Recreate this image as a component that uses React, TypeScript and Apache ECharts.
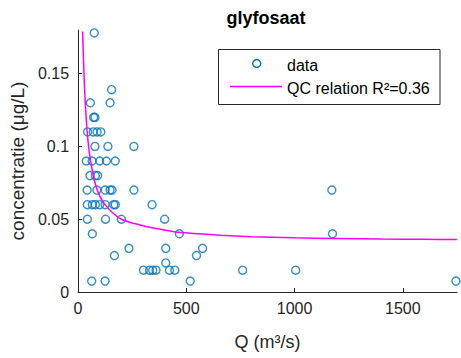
import React, { useEffect, useRef } from "react";
import * as echarts from "echarts";

// Measured discharge Q (m³/s) and glyphosate concentration (µg/L)
const qValues = [
  75, 155, 57, 148, 72, 78, 44, 70, 88, 105,
  78, 138, 258, 38, 65, 100, 131, 172, 55, 80,
  90, 42, 87, 125, 148, 157, 258, 43, 66, 80,
  100, 125, 165, 172, 342, 43, 127, 200, 400, 1172,
  66, 468, 1175, 235, 405, 575, 168, 547, 405, 302,
  330, 345, 360, 422, 447, 760, 1005, 63, 125, 518,
  1745,
];
const cValues = [
  0.178, 0.139, 0.13, 0.13, 0.12, 0.12, 0.11, 0.11, 0.11, 0.11,
  0.1, 0.1, 0.1, 0.09, 0.09, 0.09, 0.09, 0.09, 0.08, 0.08,
  0.08, 0.07, 0.07, 0.07, 0.07, 0.07, 0.07, 0.06, 0.06, 0.06,
  0.06, 0.06, 0.06, 0.06, 0.06, 0.05, 0.05, 0.05, 0.05, 0.07,
  0.04, 0.04, 0.04, 0.03, 0.03, 0.03, 0.025, 0.025, 0.02, 0.015,
  0.015, 0.015, 0.015, 0.015, 0.015, 0.015, 0.015, 0.0075, 0.0075, 0.0075,
  0.0075,
];

// Fitted QC relation, sampled along the curve
const fitQ = [21, 24, 28, 33, 41, 52, 65, 80, 100, 125, 156, 200, 260, 330, 386, 465, 560, 658, 800, 1000, 1200, 1400, 1600, 1750];
const fitC = [0.179, 0.165, 0.148, 0.131, 0.112, 0.096, 0.084, 0.074, 0.066, 0.06, 0.055, 0.05, 0.047, 0.0445, 0.043, 0.041, 0.04, 0.039, 0.038, 0.0372, 0.0367, 0.0364, 0.0362, 0.0361];

const xTicks = [0, 500, 1000, 1500];
const yTicks = [0, 0.05, 0.1, 0.15];

const chartTitle = "glyfosaat";
const xName = "Q (m³/s)";
const yName = "concentratie (μg/L)";
const legendData = "data";
const legendFit = "QC relation R²=0.36";

const FONT = "Liberation Sans, Arial, Helvetica, sans-serif";
const AXIS = "#262626";
const BLUE = "#0072BD";
const MAGENTA = "#FF00FF";

export default function App() {
  const ref = useRef<HTMLDivElement>(null);

  useEffect(() => {
    if (!ref.current) return;
    document.body.style.margin = "0";
    const chart = echarts.init(ref.current, undefined, { renderer: "svg" });
    const points = qValues.map((q, i) => [q, cValues[i]]);
    const curve = fitQ.map((q, i) => [q, fitC[i]]);

    chart.setOption({
      animation: false,
      backgroundColor: "#ffffff",
      grid: { left: 76, right: 4, top: 30, bottom: 66 },
      xAxis: {
        type: "value",
        min: 0,
        max: 1750,
        name: xName,
        nameLocation: "middle",
        nameGap: 41,
        nameTextStyle: { fontFamily: FONT, fontSize: 18, color: AXIS },
        axisLine: { show: true, lineStyle: { color: AXIS, width: 1 } },
        axisTick: { show: true, inside: true, length: 4, customValues: xTicks, lineStyle: { color: AXIS } },
        axisLabel: {
          customValues: xTicks,
          formatter: (v: number) => String(v),
          fontFamily: FONT,
          fontSize: 16,
          color: AXIS,
          margin: 8,
        },
        splitLine: { show: false },
      },
      yAxis: {
        type: "value",
        min: 0,
        max: 0.18,
        name: yName,
        nameLocation: "middle",
        nameRotate: 90,
        nameGap: 49,
        nameTextStyle: { fontFamily: FONT, fontSize: 19, color: AXIS },
        axisLine: { show: true, lineStyle: { color: AXIS, width: 1 } },
        axisTick: { show: true, inside: true, length: 4, customValues: yTicks, lineStyle: { color: AXIS } },
        axisLabel: {
          customValues: yTicks,
          formatter: (v: number) => String(v),
          fontFamily: FONT,
          fontSize: 16,
          color: AXIS,
          margin: 9,
        },
        splitLine: { show: false },
      },
      series: [
        {
          type: "scatter",
          name: legendData,
          data: points,
          symbol: "circle",
          symbolSize: 8,
          itemStyle: { color: "rgba(0,0,0,0)", borderColor: BLUE, borderWidth: 1.4 },
          z: 2,
        },
        {
          type: "line",
          name: legendFit,
          data: curve,
          showSymbol: false,
          smooth: 0.25,
          lineStyle: { color: MAGENTA, width: 1.5 },
          z: 3,
        },
      ],
      graphic: [
        {
          type: "text",
          x: 266,
          y: 18,
          style: {
            text: chartTitle,
            font: `bold 18px ${FONT}`,
            fill: "#000",
            textAlign: "center",
            textVerticalAlign: "middle",
          },
        },
        {
          type: "rect",
          shape: { x: 218.5, y: 49.5, width: 221.5, height: 55 },
          style: { fill: "#fff", stroke: AXIS, lineWidth: 1 },
          z: 10,
        },
        {
          type: "circle",
          shape: { cx: 256.7, cy: 63.5, r: 4 },
          style: { fill: "none", stroke: BLUE, lineWidth: 1.4 },
          z: 11,
        },
        {
          type: "text",
          x: 287,
          y: 65,
          style: { text: legendData, font: `16px ${FONT}`, fill: "#000", textVerticalAlign: "middle" },
          z: 11,
        },
        {
          type: "line",
          shape: { x1: 230, y1: 86.5, x2: 282, y2: 86.5 },
          style: { stroke: MAGENTA, lineWidth: 1.5 },
          z: 11,
        },
        {
          type: "text",
          x: 287,
          y: 88,
          style: { text: legendFit, font: `16px ${FONT}`, fill: "#000", textVerticalAlign: "middle" },
          z: 11,
        },
      ],
    });

    return () => chart.dispose();
  }, []);

  return <div ref={ref} style={{ width: 461, height: 358 }} />;
}
